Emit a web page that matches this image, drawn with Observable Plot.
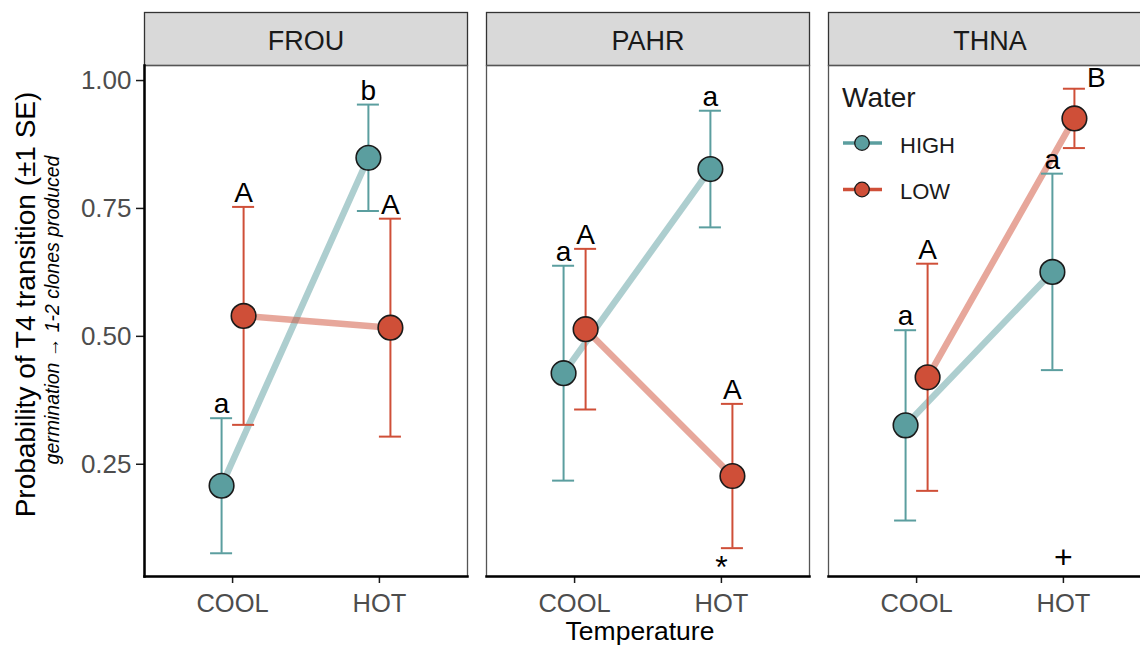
<!DOCTYPE html>
<html><head><meta charset="utf-8">
<script src="https://cdn.jsdelivr.net/npm/d3@7"></script>
<script src="https://cdn.jsdelivr.net/npm/@observablehq/plot@0.6"></script>
<style>
html,body{margin:0;padding:0;background:#fff;overflow:hidden;}
#wrap{position:relative;width:1140px;height:649px;overflow:hidden;font-family:"Liberation Sans",Arial,sans-serif;}
#wrap svg.ov{position:absolute;left:0;top:0;pointer-events:none;}
</style></head><body><div id="wrap"></div>
<script>
// ---- data ----
const sites = ["FROU", "PAHR", "THNA"];
const temps = ["COOL", "HOT"];
const waters = ["HIGH", "LOW"];
const waterColors = ["#5b9e9f", "#cf4f38"];
// order: FROU COOL, FROU HOT, PAHR COOL, PAHR HOT, THNA COOL, THNA HOT
const highMean = [0.208, 0.849, 0.428, 0.827, 0.326, 0.626];
const highSE   = [0.132, 0.104, 0.210, 0.114, 0.186, 0.192];
const lowMean  = [0.540, 0.517, 0.514, 0.227, 0.420, 0.926];
const lowSE    = [0.213, 0.213, 0.157, 0.141, 0.222, 0.058];
const highLetters = ["a", "b", "a", "a", "a", "a"];
const lowLetters  = ["A", "A", "A", "A", "A", "B"];
const hotSignif = ["", "*", "+"];
const yTicks = [0.25, 0.50, 0.75, 1.00];
const yTitle = "Probability of T4 transition (\u00b11 SE)";
const ySubTitle = "germination \u2192 1-2 clones produced";
const xTitle = "Temperature";
const legendTitle = "Water";

// ---- build table ----
const dodge = 0.075;
const rows = [];
sites.forEach((s, i) => temps.forEach((t, j) => {
  const k = i * 2 + j;
  rows.push({site: s, temp: t, water: "HIGH", mean: highMean[k], se: highSE[k], letter: highLetters[k]});
  rows.push({site: s, temp: t, water: "LOW", mean: lowMean[k], se: lowSE[k], letter: lowLetters[k]});
}));
rows.forEach(d => {
  d.lo = d.mean - d.se; d.hi = d.mean + d.se;
  d.xd = temps.indexOf(d.temp) + 1 + (d.water === "HIGH" ? -dodge : dodge);
});
const yMin = d3.min(rows, d => d.lo), yMax = d3.max(rows, d => d.hi);
const pad = 0.05 * (yMax - yMin);
const yDomain = [yMin - pad, yMax + pad];
// letters that would overflow the panel top go beside the bar instead
const overflow = d => d.hi + 0.06 > yDomain[1];
const lettersAbove = rows.filter(d => !overflow(d));
const lettersBeside = rows.filter(d => overflow(d));
const sig = sites.map((s, i) => ({site: s, temp: "HOT", mark: hotSignif[i]})).filter(d => d.mark);
const sigX = d => temps.indexOf(d.temp) + 1;

const W = 1151, H = 649, mL = 144, mT = 65, mB = 73;
const plotH = H - mT - mB;
const font = "'Liberation Sans', Arial, sans-serif";

const chart = Plot.plot({
  width: W, height: H,
  marginLeft: mL, marginRight: 0, marginTop: mT, marginBottom: mB,
  style: {fontFamily: font, background: "white", overflow: "visible", maxWidth: "none"},
  fx: {domain: sites, paddingInner: 19 / 342, paddingOuter: 0, round: false, axis: null},
  x: {domain: [0.4, 2.6], axis: null},
  y: {domain: yDomain, axis: null},
  color: {domain: waters, range: waterColors},
  marks: [
    // strip
    Plot.frame({fill: "#d9d9d9", stroke: "#333", strokeWidth: 1.3, insetTop: -53, insetBottom: plotH}),
    Plot.frame({stroke: "#555", strokeWidth: 1.3}),
    Plot.axisFx({anchor: "top", tickSize: 0, tickPadding: 16, fontSize: 27, fill: "#1a1a1a", label: null}),
    // connecting lines
    Plot.line(rows, {fx: "site", x: "xd", y: "mean", z: "water", stroke: "water", strokeOpacity: 0.5, strokeWidth: 6.5}),
    // error bars
    Plot.ruleX(rows, {fx: "site", x: "xd", y1: "lo", y2: "hi", stroke: "water", strokeWidth: 2}),
    Plot.ruleY(rows, {fx: "site", y: "hi", x1: d => d.xd - dodge, x2: d => d.xd + dodge, stroke: "water", strokeWidth: 2}),
    Plot.ruleY(rows, {fx: "site", y: "lo", x1: d => d.xd - dodge, x2: d => d.xd + dodge, stroke: "water", strokeWidth: 2}),
    // points
    Plot.dot(rows, {fx: "site", x: "xd", y: "mean", fill: "water", r: 12.3, stroke: "#1a1a1a", strokeWidth: 1.6}),
    // letters
    Plot.text(lettersAbove, {fx: "site", x: "xd", y: "hi", text: "letter", lineAnchor: "bottom", dy: -5, fontSize: 28, fill: "black"}),
    Plot.text(lettersBeside, {fx: "site", x: d => d.xd + 2 * dodge, y: "hi", text: "letter", lineAnchor: "bottom", dy: -2, fontSize: 28, fill: "black"}),
    // significance marks at HOT
    Plot.text(sig.filter(d => d.mark === "*"), {fx: "site", x: sigX, text: "mark", frameAnchor: "bottom", lineAnchor: "middle", dy: -9, fontSize: 32, fill: "black"}),
    Plot.text(sig.filter(d => d.mark !== "*"), {fx: "site", x: sigX, text: "mark", frameAnchor: "bottom", lineAnchor: "middle", dy: -19, fontSize: 32, fill: "black"}),
    // axes
    Plot.axisY({ticks: yTicks, tickFormat: d3.format(".2f"), tickSize: 8, tickPadding: 5, fontSize: 26, fill: "#4d4d4d", stroke: "#1a1a1a", strokeWidth: 1.5, label: null}),
    Plot.axisX({ticks: [1, 2], tickFormat: d => temps[d - 1], tickSize: 7, tickPadding: 10, fontSize: 25.5, fill: "#4d4d4d", stroke: "#1a1a1a", strokeWidth: 1.5, label: null}),
    Plot.frame({anchor: "bottom", stroke: "#000", strokeWidth: 2.5}),
    Plot.frame({anchor: "left", stroke: "#000", strokeWidth: 2.5, facetAnchor: "left"})
  ]
});
const wrap = document.getElementById("wrap");
wrap.appendChild(chart);

// overlay: axis titles and legend
const ov = d3.select(wrap).append("svg").attr("class", "ov")
  .attr("width", 1140).attr("height", 649).style("font-family", font);
ov.append("text").attr("transform", "translate(35,304.5) rotate(-90)")
  .attr("text-anchor", "middle").attr("font-size", 28).attr("fill", "black").text(yTitle);
ov.append("text").attr("transform", "translate(59,310) rotate(-90)")
  .attr("text-anchor", "middle").attr("font-size", 19.5).attr("font-style", "italic").attr("fill", "black").text(ySubTitle);
ov.append("text").attr("x", 640).attr("y", 640).attr("text-anchor", "middle")
  .attr("font-size", 26.5).attr("fill", "black").text(xTitle);
ov.append("text").attr("x", 842).attr("y", 107).attr("font-size", 28).attr("fill", "#1a1a1a").text(legendTitle);
waters.forEach((w, i) => {
  const cy = 143 + i * 46.5;
  ov.append("line").attr("x1", 843).attr("x2", 882).attr("y1", cy).attr("y2", cy)
    .attr("stroke", waterColors[i]).attr("stroke-width", 3.5);
  ov.append("circle").attr("cx", 862).attr("cy", cy).attr("r", 7.3)
    .attr("fill", waterColors[i]).attr("stroke", "#1a1a1a").attr("stroke-width", 1.3);
  ov.append("text").attr("x", 900).attr("y", cy + 9.5).attr("font-size", 22).attr("fill", "#1a1a1a").text(w);
});
</script></body></html>
